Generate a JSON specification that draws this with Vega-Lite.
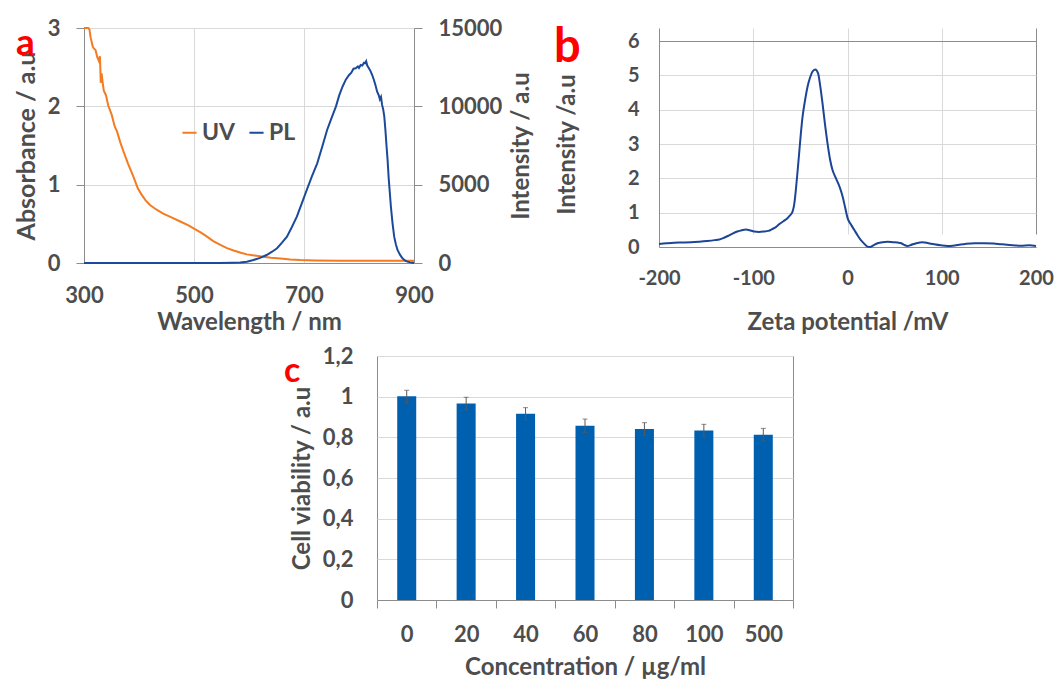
{
  "$schema": "https://vega.github.io/schema/vega-lite/v6.json",
  "background": "white",
  "padding": {"left": 14, "top": 17, "right": 0, "bottom": 0},
  "config": {
    "font": "Lato",
    "view": {"stroke": null},
    "axis": {
      "labelFont": "Lato", "titleFont": "Lato",
      "labelFontWeight": "bold", "titleFontWeight": "bold",
      "labelColor": "#4d4d4d", "titleColor": "#4d4d4d",
      "labelFontSize": 22, "titleFontSize": 24,
      "gridColor": "#d9d9d9", "gridWidth": 1,
      "domainColor": "#8c8c8c", "tickColor": "#8c8c8c",
      "labelOverlap": false, "labelFlush": false
    },
    "title": {"font": "Lato", "fontWeight": "bold", "color": "#ff0000"}
  },
  "datasets": {
    "uv": [
      {"wl": 300, "abs": 3.0}, {"wl": 308, "abs": 3.0}, {"wl": 310, "abs": 2.98}, {"wl": 312, "abs": 2.88},
      {"wl": 316, "abs": 2.76}, {"wl": 318, "abs": 2.74}, {"wl": 321, "abs": 2.72}, {"wl": 324, "abs": 2.63},
      {"wl": 327, "abs": 2.58}, {"wl": 329, "abs": 2.64}, {"wl": 330.5, "abs": 2.3}, {"wl": 332, "abs": 2.42},
      {"wl": 334, "abs": 2.3}, {"wl": 336, "abs": 2.2}, {"wl": 340, "abs": 2.14}, {"wl": 344, "abs": 2.01},
      {"wl": 350, "abs": 1.9}, {"wl": 356, "abs": 1.74}, {"wl": 360, "abs": 1.68}, {"wl": 366, "abs": 1.54},
      {"wl": 372, "abs": 1.42}, {"wl": 380, "abs": 1.27}, {"wl": 390, "abs": 1.1}, {"wl": 398, "abs": 0.95},
      {"wl": 405, "abs": 0.87}, {"wl": 412, "abs": 0.8}, {"wl": 420, "abs": 0.74}, {"wl": 432, "abs": 0.68},
      {"wl": 444, "abs": 0.63}, {"wl": 460, "abs": 0.58}, {"wl": 475, "abs": 0.53}, {"wl": 490, "abs": 0.48},
      {"wl": 500, "abs": 0.44}, {"wl": 512, "abs": 0.39}, {"wl": 523, "abs": 0.34}, {"wl": 535, "abs": 0.28},
      {"wl": 548, "abs": 0.23}, {"wl": 560, "abs": 0.19}, {"wl": 572, "abs": 0.16}, {"wl": 585, "abs": 0.13},
      {"wl": 596, "abs": 0.11}, {"wl": 610, "abs": 0.095}, {"wl": 626, "abs": 0.08}, {"wl": 640, "abs": 0.068},
      {"wl": 657, "abs": 0.058}, {"wl": 675, "abs": 0.045}, {"wl": 693, "abs": 0.038}, {"wl": 720, "abs": 0.033},
      {"wl": 766, "abs": 0.03}, {"wl": 820, "abs": 0.03}, {"wl": 900, "abs": 0.03}
    ],
    "pl": [
      {"wl": 300, "int": 0}, {"wl": 400, "int": 0}, {"wl": 500, "int": 0}, {"wl": 547, "int": 0},
      {"wl": 570, "int": 10}, {"wl": 584, "int": 25}, {"wl": 596, "int": 80}, {"wl": 608, "int": 190},
      {"wl": 620, "int": 330}, {"wl": 632, "int": 510}, {"wl": 642, "int": 720}, {"wl": 651, "int": 940},
      {"wl": 660, "int": 1300}, {"wl": 669, "int": 1680}, {"wl": 678, "int": 2300}, {"wl": 687, "int": 2960},
      {"wl": 696, "int": 3800}, {"wl": 705, "int": 4660}, {"wl": 714, "int": 5500}, {"wl": 724, "int": 6360},
      {"wl": 733, "int": 7400}, {"wl": 742, "int": 8490}, {"wl": 750, "int": 9250}, {"wl": 758, "int": 9980},
      {"wl": 764, "int": 10700}, {"wl": 770, "int": 11250}, {"wl": 776, "int": 11700}, {"wl": 782, "int": 12000},
      {"wl": 786, "int": 12150}, {"wl": 790, "int": 12400}, {"wl": 794, "int": 12430}, {"wl": 798, "int": 12550},
      {"wl": 800, "int": 12450}, {"wl": 803, "int": 12640}, {"wl": 806, "int": 12600}, {"wl": 809, "int": 12780},
      {"wl": 811, "int": 12750}, {"wl": 813, "int": 12880}, {"wl": 815, "int": 12600}, {"wl": 818, "int": 12430},
      {"wl": 821, "int": 12250}, {"wl": 824, "int": 12000}, {"wl": 827, "int": 11700}, {"wl": 830, "int": 11350},
      {"wl": 833, "int": 10930}, {"wl": 836, "int": 10700}, {"wl": 838, "int": 10450}, {"wl": 840, "int": 10600},
      {"wl": 842, "int": 10090}, {"wl": 844, "int": 9800}, {"wl": 846, "int": 9340}, {"wl": 848, "int": 8500},
      {"wl": 850, "int": 7500}, {"wl": 852, "int": 6570}, {"wl": 854, "int": 5400}, {"wl": 856, "int": 4500},
      {"wl": 858, "int": 3590}, {"wl": 861, "int": 2530}, {"wl": 864, "int": 1680}, {"wl": 867, "int": 1200},
      {"wl": 870, "int": 830}, {"wl": 875, "int": 500}, {"wl": 879, "int": 300}, {"wl": 884, "int": 150},
      {"wl": 888, "int": 85}, {"wl": 893, "int": 40}, {"wl": 897, "int": 20}, {"wl": 900, "int": 0}
    ],
    "zeta": [
      {"mv": -200, "i": 0.09}, {"mv": -192, "i": 0.11}, {"mv": -184, "i": 0.125}, {"mv": -175, "i": 0.13},
      {"mv": -166, "i": 0.137}, {"mv": -157, "i": 0.155}, {"mv": -149, "i": 0.175}, {"mv": -141, "i": 0.2},
      {"mv": -136, "i": 0.22}, {"mv": -131, "i": 0.27}, {"mv": -127, "i": 0.32}, {"mv": -122, "i": 0.39},
      {"mv": -117, "i": 0.45}, {"mv": -112, "i": 0.49}, {"mv": -108, "i": 0.51}, {"mv": -104, "i": 0.49},
      {"mv": -99, "i": 0.45}, {"mv": -94, "i": 0.44}, {"mv": -89, "i": 0.45}, {"mv": -84, "i": 0.47},
      {"mv": -80, "i": 0.52}, {"mv": -76, "i": 0.58}, {"mv": -72.6, "i": 0.66}, {"mv": -68, "i": 0.75},
      {"mv": -63.7, "i": 0.84}, {"mv": -61, "i": 0.92}, {"mv": -58.3, "i": 1.03}, {"mv": -56.5, "i": 1.25},
      {"mv": -54.8, "i": 1.66}, {"mv": -53, "i": 2.2}, {"mv": -51.3, "i": 2.73}, {"mv": -49.5, "i": 3.3},
      {"mv": -47.7, "i": 3.79}, {"mv": -45, "i": 4.28}, {"mv": -42.4, "i": 4.67}, {"mv": -39.8, "i": 4.93},
      {"mv": -37.1, "i": 5.11}, {"mv": -34.3, "i": 5.17}, {"mv": -31.2, "i": 5.06}, {"mv": -29, "i": 4.7},
      {"mv": -26.5, "i": 4.18}, {"mv": -24, "i": 3.6}, {"mv": -21.2, "i": 3.02}, {"mv": -18.5, "i": 2.55},
      {"mv": -15.9, "i": 2.24}, {"mv": -13.2, "i": 2.06}, {"mv": -10.6, "i": 1.9}, {"mv": -8, "i": 1.72},
      {"mv": -5.2, "i": 1.47}, {"mv": -2.5, "i": 1.15}, {"mv": 0.1, "i": 0.84}, {"mv": 3.5, "i": 0.66},
      {"mv": 7.1, "i": 0.5}, {"mv": 10.5, "i": 0.35}, {"mv": 14.2, "i": 0.2}, {"mv": 18, "i": 0.09},
      {"mv": 21.3, "i": 0.01}, {"mv": 24, "i": 0.0}, {"mv": 27, "i": 0.04}, {"mv": 31.9, "i": 0.11},
      {"mv": 37, "i": 0.14}, {"mv": 42.5, "i": 0.15}, {"mv": 48, "i": 0.14}, {"mv": 53.2, "i": 0.13},
      {"mv": 57, "i": 0.11}, {"mv": 60.2, "i": 0.06}, {"mv": 63.8, "i": 0.03}, {"mv": 67.3, "i": 0.06},
      {"mv": 73, "i": 0.11}, {"mv": 79.7, "i": 0.14}, {"mv": 86, "i": 0.11}, {"mv": 92, "i": 0.08},
      {"mv": 99, "i": 0.05}, {"mv": 106, "i": 0.03}, {"mv": 115, "i": 0.05}, {"mv": 125, "i": 0.09},
      {"mv": 134.5, "i": 0.11}, {"mv": 145, "i": 0.11}, {"mv": 155, "i": 0.1}, {"mv": 163, "i": 0.08},
      {"mv": 172, "i": 0.06}, {"mv": 184, "i": 0.04}, {"mv": 193, "i": 0.05}, {"mv": 200, "i": 0.03}
    ],
    "cells": [
      {"conc": "0", "v": 1.002, "lo": 0.97, "hi": 1.031},
      {"conc": "20", "v": 0.966, "lo": 0.935, "hi": 0.997},
      {"conc": "40", "v": 0.916, "lo": 0.886, "hi": 0.946},
      {"conc": "60", "v": 0.857, "lo": 0.824, "hi": 0.89},
      {"conc": "80", "v": 0.841, "lo": 0.81, "hi": 0.872},
      {"conc": "100", "v": 0.833, "lo": 0.802, "hi": 0.864},
      {"conc": "500", "v": 0.813, "lo": 0.782, "hi": 0.844}
    ],
    "empty": []
  },
  "spacing": 10,
  "vconcat": [
    {
      "spacing": 20,
      "hconcat": [
        {
          "width": 330,
          "height": 235,
          "title": {"text": "a", "fontSize": 37, "anchor": "start", "frame": "group", "orient": "none", "offset": 0, "baseline": "alphabetic", "dx": -68, "dy": 27},
          "layer": [
            {
              "data": {"name": "uv"},
              "mark": {"type": "line", "strokeWidth": 2, "interpolate": "linear"},
              "encoding": {
                "x": {"field": "wl", "type": "quantitative", "scale": {"domain": [300, 900], "nice": false},
                  "axis": {"values": [300, 500, 700, 900], "grid": true, "ticks": false, "tickSize": 0, "domain": true, "labelPadding": 22, "title": "Wavelength / nm", "titlePadding": 4}},
                "y": {"field": "abs", "type": "quantitative", "scale": {"domain": [0, 3], "nice": false},
                  "axis": {"values": [0, 1, 2, 3], "grid": true, "ticks": true, "tickSize": 8, "domain": true, "labelPadding": 16, "title": "Absorbance / a.u", "titleFontSize": 25, "titlePadding": 8}},
                "color": {"datum": "UV", "type": "nominal",
                  "scale": {"domain": ["UV", "PL"], "range": ["#F47B20", "#1B4A9A"]},
                  "legend": {"title": null, "orient": "none", "legendX": 94, "legendY": 93, "direction": "horizontal", "symbolType": "stroke", "symbolStrokeWidth": 2, "symbolSize": 200, "labelFont": "Lato", "labelFontWeight": "bold", "labelFontSize": 23, "labelColor": "#4d4d4d", "labelOffset": 1, "columnPadding": 9}}
              }
            },
            {
              "data": {"name": "pl"},
              "mark": {"type": "line", "strokeWidth": 2, "interpolate": "linear"},
              "encoding": {
                "x": {"field": "wl", "type": "quantitative", "scale": {"domain": [300, 900], "nice": false}},
                "y": {"field": "int", "type": "quantitative", "scale": {"domain": [0, 15000], "nice": false},
                  "axis": {"orient": "right", "values": [0, 5000, 10000, 15000], "format": "d", "grid": false, "ticks": true, "tickSize": 8, "domain": true, "labelPadding": 16, "title": "Intensity / a.u", "titleAngle": 270, "titleBaseline": "top", "titlePadding": 8}},
                "color": {"datum": "PL", "type": "nominal"}
              }
            }
          ],
          "resolve": {"scale": {"y": "independent"}, "axis": {"y": "independent"}}
        },
        {
          "width": 377,
          "height": 219,
          "title": {"text": "b", "fontSize": 47, "anchor": "start", "frame": "group", "orient": "none", "offset": 0, "baseline": "alphabetic", "dx": -105, "dy": 34},
          "data": {"name": "zeta"},
          "mark": {"type": "line", "strokeWidth": 2, "color": "#1C4596", "interpolate": "monotone"},
          "encoding": {
            "x": {"field": "mv", "type": "quantitative", "scale": {"domain": [-200, 200], "nice": false},
              "axis": {"values": [-200, -100, 0, 100, 200], "labelExpr": "'' + datum.value", "grid": true,
                "gridColor": {"condition": {"test": "abs(datum.value) == 200", "value": "#8c8c8c"}, "value": "#d9d9d9"},
                "ticks": false, "tickSize": 0, "domain": true, "labelFontSize": 20, "labelPadding": 21, "title": "Zeta potential /mV", "titlePadding": 22}},
            "y": {"field": "i", "type": "quantitative", "scale": {"domain": [0, 6], "nice": false, "range": [219, 13]},
              "axis": {"values": [0, 1, 2, 3, 4, 5, 6], "grid": true,
                "gridColor": {"condition": {"test": "datum.value == 6", "value": "#8c8c8c"}, "value": "#d9d9d9"},
                "ticks": false, "tickSize": 0, "domain": true, "labelFontSize": 20, "labelPadding": 20, "title": "Intensity /a.u", "titlePadding": 48}}
          }
        }
      ]
    },
    {
      "spacing": 0,
      "hconcat": [
        {
          "width": 199,
          "height": 1,
          "data": {"name": "empty"},
          "mark": "point"
        },
        {
          "width": 416,
          "height": 244,
          "view": {"stroke": "#8c8c8c"},
          "title": {"text": "c", "fontSize": 34, "anchor": "start", "frame": "group", "orient": "none", "offset": 0, "baseline": "alphabetic", "dx": -93, "dy": 26},
          "data": {"name": "cells"},
          "layer": [
            {
              "mark": {"type": "bar", "width": {"band": 0.32}, "color": "#0060B0"},
              "encoding": {
                "x": {"field": "conc", "type": "ordinal", "sort": null, "scale": {"paddingInner": 0, "paddingOuter": 0},
                  "axis": {"labelAngle": 0, "tickBand": "extent", "ticks": true, "tickSize": 8, "domain": true, "grid": false, "labelPadding": 16, "title": "Concentration / µg/ml", "titlePadding": 10}},
                "y": {"field": "v", "type": "quantitative", "scale": {"domain": [0, 1.2], "nice": false},
                  "axis": {"values": [0, 0.2, 0.4, 0.6, 0.8, 1, 1.2], "labelExpr": "replace(format(datum.value, '~g'), '.', ',')", "grid": true, "ticks": false, "tickSize": 0, "domain": false, "labelPadding": 24, "title": "Cell viability / a.u", "titlePadding": 8}}
              }
            },
            {
              "mark": {"type": "rule", "color": "#595959", "strokeWidth": 1},
              "encoding": {
                "x": {"field": "conc", "type": "ordinal", "sort": null},
                "y": {"field": "lo", "type": "quantitative"},
                "y2": {"field": "hi"}
              }
            },
            {
              "mark": {"type": "tick", "color": "#595959", "size": 5, "thickness": 1, "orient": "horizontal"},
              "encoding": {
                "x": {"field": "conc", "type": "ordinal", "sort": null},
                "y": {"field": "lo", "type": "quantitative"}
              }
            },
            {
              "mark": {"type": "tick", "color": "#595959", "size": 5, "thickness": 1, "orient": "horizontal"},
              "encoding": {
                "x": {"field": "conc", "type": "ordinal", "sort": null},
                "y": {"field": "hi", "type": "quantitative"}
              }
            }
          ]
        }
      ]
    }
  ]
}
